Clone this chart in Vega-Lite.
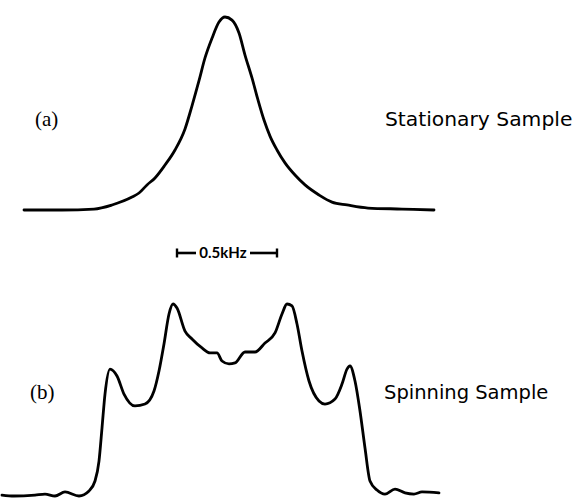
{
  "$schema": "https://vega.github.io/schema/vega-lite/v6.json",
  "padding": 0,
  "spacing": 0,
  "background": "white",
  "config": {"view": {"stroke": null}},
  "datasets": {
    "a": [
      {"f": -1.03, "i": 0}, {"f": -0.84, "i": 0}, {"f": -0.68, "i": 0.005}, {"f": -0.59, "i": 0.026},
      {"f": -0.49, "i": 0.067}, {"f": -0.455, "i": 0.088}, {"f": -0.415, "i": 0.13}, {"f": -0.375, "i": 0.166},
      {"f": -0.325, "i": 0.233}, {"f": -0.275, "i": 0.311}, {"f": -0.225, "i": 0.42}, {"f": -0.19, "i": 0.54},
      {"f": -0.155, "i": 0.67}, {"f": -0.125, "i": 0.788}, {"f": -0.09, "i": 0.89}, {"f": -0.055, "i": 0.974},
      {"f": -0.025, "i": 1.0}, {"f": 0.01, "i": 0.984}, {"f": 0.045, "i": 0.917}, {"f": 0.075, "i": 0.803},
      {"f": 0.11, "i": 0.684}, {"f": 0.14, "i": 0.57}, {"f": 0.17, "i": 0.466}, {"f": 0.2, "i": 0.383},
      {"f": 0.235, "i": 0.311}, {"f": 0.275, "i": 0.244}, {"f": 0.325, "i": 0.181}, {"f": 0.375, "i": 0.13},
      {"f": 0.445, "i": 0.078}, {"f": 0.51, "i": 0.041}, {"f": 0.585, "i": 0.026}, {"f": 0.69, "i": 0.01},
      {"f": 0.86, "i": 0.005}, {"f": 1.02, "i": 0}
    ],
    "b": [
      {"f": -1.14, "i": 0.005}, {"f": -1.08, "i": 0}, {"f": -0.975, "i": 0.005}, {"f": -0.925, "i": 0.01},
      {"f": -0.875, "i": 0}, {"f": -0.825, "i": 0.021}, {"f": -0.755, "i": 0}, {"f": -0.705, "i": 0.026},
      {"f": -0.675, "i": 0.078}, {"f": -0.655, "i": 0.182}, {"f": -0.64, "i": 0.354}, {"f": -0.625, "i": 0.531},
      {"f": -0.6, "i": 0.661}, {"f": -0.565, "i": 0.625}, {"f": -0.53, "i": 0.531}, {"f": -0.475, "i": 0.469},
      {"f": -0.425, "i": 0.479}, {"f": -0.38, "i": 0.547}, {"f": -0.355, "i": 0.651}, {"f": -0.33, "i": 0.792},
      {"f": -0.305, "i": 0.948}, {"f": -0.285, "i": 1.0}, {"f": -0.265, "i": 0.979}, {"f": -0.225, "i": 0.859},
      {"f": -0.19, "i": 0.818}, {"f": -0.14, "i": 0.771}, {"f": -0.1, "i": 0.745}, {"f": -0.065, "i": 0.745},
      {"f": -0.04, "i": 0.703}, {"f": -0.005, "i": 0.688}, {"f": 0.025, "i": 0.693}, {"f": 0.075, "i": 0.75},
      {"f": 0.125, "i": 0.75}, {"f": 0.175, "i": 0.797}, {"f": 0.225, "i": 0.849}, {"f": 0.26, "i": 0.948},
      {"f": 0.285, "i": 1.0}, {"f": 0.31, "i": 0.99}, {"f": 0.335, "i": 0.896}, {"f": 0.36, "i": 0.755},
      {"f": 0.395, "i": 0.599}, {"f": 0.445, "i": 0.495}, {"f": 0.475, "i": 0.479}, {"f": 0.525, "i": 0.505},
      {"f": 0.56, "i": 0.583}, {"f": 0.585, "i": 0.661}, {"f": 0.6, "i": 0.677}, {"f": 0.625, "i": 0.599},
      {"f": 0.65, "i": 0.443}, {"f": 0.675, "i": 0.25}, {"f": 0.7, "i": 0.078}, {"f": 0.735, "i": 0.031},
      {"f": 0.775, "i": 0.01}, {"f": 0.825, "i": 0.036}, {"f": 0.875, "i": 0.016}, {"f": 0.92, "i": 0.01},
      {"f": 0.96, "i": 0.021}, {"f": 1.045, "i": 0.016}
    ]
  },
  "vconcat": [
    {
      "width": 574,
      "height": 260,
      "encoding": {
        "x": {"field": "f", "type": "quantitative", "scale": {"domain": [-1.14, 1.73], "nice": false, "zero": false}, "axis": null},
        "y": {"field": "i", "type": "quantitative", "scale": {"domain": [-0.2591, 1.0881], "nice": false, "zero": false}, "axis": null}
      },
      "layer": [
        {
          "data": {"name": "a"},
          "mark": {"type": "line", "color": "black", "strokeWidth": 2.8, "interpolate": "monotone", "strokeJoin": "round", "strokeCap": "round"}
        },
        {
          "data": {"values": [{"label": "(a)", "f": -0.975, "i": 0.466}]},
          "mark": {"type": "text", "font": "Liberation Serif", "fontSize": 21, "align": "left", "baseline": "middle", "color": "black"},
          "encoding": {"text": {"field": "label"}}
        },
        {
          "data": {"values": [{"label": "Stationary Sample", "f": 0.775, "i": 0.466}]},
          "mark": {"type": "text", "font": "DejaVu Sans", "fontSize": 20.3, "align": "left", "baseline": "middle", "color": "black"},
          "encoding": {"text": {"field": "label"}}
        },
        {
          "data": {"values": [{"f": -0.265, "f2": -0.17, "i": -0.2228}, {"f": 0.1, "f2": 0.235, "i": -0.2228}]},
          "mark": {"type": "rule", "color": "black", "strokeWidth": 2.6},
          "encoding": {"x2": {"field": "f2"}}
        },
        {
          "data": {"values": [{"f": -0.265, "i": -0.2228}, {"f": 0.235, "i": -0.2228}]},
          "mark": {"type": "tick", "orient": "vertical", "color": "black", "size": 9, "thickness": 2.4, "opacity": 1}
        },
        {
          "data": {"values": [{"label": "0.5kHz", "f": -0.035, "i": -0.2228}]},
          "mark": {"type": "text", "font": "Lato", "fontSize": 15, "fontWeight": "bold", "letterSpacing": -0.3, "align": "center", "baseline": "middle", "color": "black"},
          "encoding": {"text": {"field": "label"}}
        }
      ]
    },
    {
      "width": 574,
      "height": 238,
      "encoding": {
        "x": {"field": "f", "type": "quantitative", "scale": {"domain": [-1.14, 1.73], "nice": false, "zero": false}, "axis": null},
        "y": {"field": "i", "type": "quantitative", "scale": {"domain": [-0.01563, 1.224], "nice": false, "zero": false}, "axis": null}
      },
      "layer": [
        {
          "data": {"name": "b"},
          "mark": {"type": "line", "color": "black", "strokeWidth": 2.8, "interpolate": "monotone", "strokeJoin": "round", "strokeCap": "round"}
        },
        {
          "data": {"values": [{"label": "(b)", "f": -1.0, "i": 0.536}]},
          "mark": {"type": "text", "font": "Liberation Serif", "fontSize": 21, "align": "left", "baseline": "middle", "color": "black"},
          "encoding": {"text": {"field": "label"}}
        },
        {
          "data": {"values": [{"label": "Spinning Sample", "f": 0.77, "i": 0.536}]},
          "mark": {"type": "text", "font": "DejaVu Sans", "fontSize": 19.5, "align": "left", "baseline": "middle", "color": "black"},
          "encoding": {"text": {"field": "label"}}
        }
      ]
    }
  ]
}
